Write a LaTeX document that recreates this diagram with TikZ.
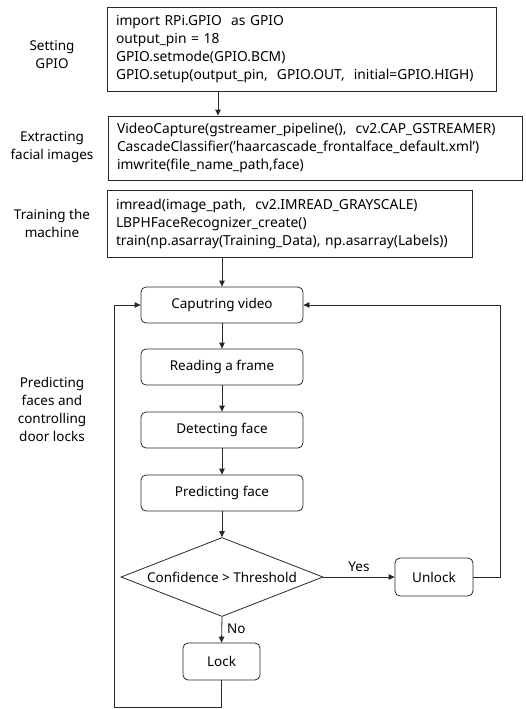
\documentclass[tikz,border=0pt]{standalone}
\usepackage{fontspec}
\setmainfont{Noto Sans}
\usepackage{tikz}
\usetikzlibrary{shapes.geometric,arrows.meta,positioning,calc}
\definecolor{ln}{RGB}{40,40,40}
\tikzset{
  code/.style={draw=ln,line width=0.8pt,align=left,font=\fontsize{13.8}{18}\selectfont,inner xsep=9pt,inner ysep=0pt,anchor=center},
  stepbox/.style={draw=ln,line width=0.8pt,rounded corners=5pt,align=center,font=\fontsize{13.5}{16}\selectfont,minimum width=162pt,minimum height=36pt,inner sep=2pt},
  dec/.style={draw=ln,line width=0.8pt,diamond,aspect=2.56,align=center,font=\fontsize{13.5}{16}\selectfont,inner sep=0pt,minimum width=202pt,minimum height=79pt},
  side/.style={align=center,font=\fontsize{13.5}{18}\selectfont},
  arr/.style={-{Triangle[length=6pt,width=5.5pt]},draw=ln,line width=0.8pt},
  lbl/.style={font=\fontsize{13.5}{16}\selectfont,inner sep=1pt}
}
\begin{document}
\begin{tikzpicture}[x=1pt,y=-1pt]
\useasboundingbox (0,0) rectangle (526,709);
% code boxes
\node[code,text width=371pt,minimum height=84pt] (gpio) at (301.5,49) {import RPi.GPIO \ as GPIO\\output\_pin = 18\\GPIO.setmode(GPIO.BCM)\\GPIO.setup(output\_pin, \ GPIO.OUT, \ initial=GPIO.HIGH)};
\node[code,text width=396pt,minimum height=64pt] (extract) at (315,148) {VideoCapture(gstreamer\_pipeline(), \ cv2.CAP\_GSTREAMER)\\CascadeClassifier('haarcascade\_frontalface\_default.xml')\\imwrite(file\_name\_path,face)};
\node[code,text width=347pt,minimum height=67pt] (train) at (289.5,223.5) {imread(image\_path, \ cv2.IMREAD\_GRAYSCALE)\\LBPHFaceRecognizer\_create()\\train(np.asarray(Training\_Data), np.asarray(Labels))};
% side labels
\node[side] (l1) at (52,55) {Setting\\GPIO};
\node[side] (l2) at (52,147) {Extracting\\facial images};
\node[side] (l3) at (52,223) {Training the\\machine};
\node[side] (l4) at (52,409) {Predicting\\faces and\\controlling\\door locks};
% flow
\node[stepbox] (cap) at (222,305) {Caputring video};
\node[stepbox] (read) at (222,367) {Reading a frame};
\node[stepbox] (det) at (222,430) {Detecting face};
\node[stepbox] (pred) at (222,493) {Predicting face};
\node[dec] (conf) at (222,577) {Confidence > Threshold};
\node[stepbox,minimum width=78pt,minimum height=38pt] (unlock) at (434,577) {Unlock};
\node[stepbox,minimum width=77pt,minimum height=37pt] (lock) at (221.5,661.5) {Lock};
\coordinate (lft) at (114,707);
\coordinate (rgt) at (500,305);
\draw[arr] (gpio.south -| 218,0) -- (extract.north -| 218,0);
\draw[arr] (train.south -| cap.north) -- (cap.north);
\draw[arr] (cap) -- (read);
\draw[arr] (read) -- (det);
\draw[arr] (det) -- (pred);
\draw[arr] (pred) -- (conf);
\draw[arr] (conf.east) -- node[lbl,above,pos=0.5,yshift=4pt]{Yes} (unlock.west);
\draw[arr] (conf.south) -- node[lbl,right,xshift=4pt,pos=0.45]{No} (lock.north);
\draw[arr] (lock.south) |- (lft) |- (cap.west);
\draw[arr] (unlock.east) -| (rgt) -- (cap.east);
\end{tikzpicture}
\end{document}
